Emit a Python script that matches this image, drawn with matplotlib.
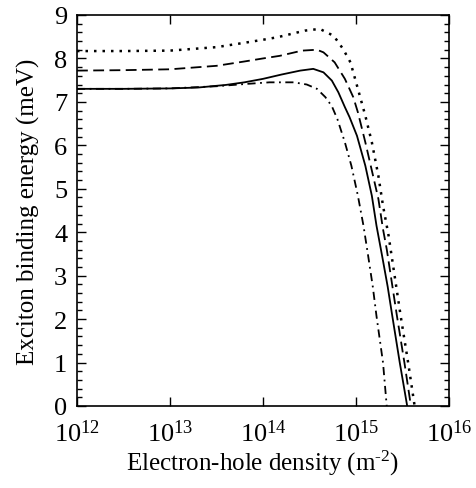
import numpy as np
import matplotlib
matplotlib.use('Agg')
import matplotlib.pyplot as plt
from matplotlib.ticker import MultipleLocator, LogLocator, FixedLocator, FixedFormatter

plt.rcParams['font.family'] = 'Liberation Serif'
plt.rcParams['mathtext.fontset'] = 'custom'
plt.rcParams['mathtext.rm'] = 'Liberation Serif'
plt.rcParams['mathtext.it'] = 'Liberation Serif:italic'

# log10 of density (m^-2) and binding energy (meV)
solid_logn = [12.0, 12.5, 13.0, 13.3, 13.6, 13.8, 14.0, 14.2, 14.4, 14.54, 14.65, 14.74, 14.81, 14.88, 14.93,
              15.01, 15.10, 15.17, 15.22, 15.28, 15.34, 15.39, 15.47, 15.55]
solid_E = [7.30, 7.30, 7.31, 7.33, 7.39, 7.45, 7.53, 7.63, 7.72, 7.76, 7.68, 7.49, 7.22, 6.88, 6.65,
           6.22, 5.53, 4.84, 4.15, 3.46, 2.75, 2.07, 1.00, 0.0]

dashed_logn = [12.0, 12.5, 13.0, 13.5, 13.8, 14.0, 14.18, 14.42, 14.58, 14.65, 14.77, 14.88, 14.97, 15.02,
               15.10, 15.17, 15.24, 15.29, 15.33, 15.44, 15.52, 15.59]
dashed_E = [7.72, 7.73, 7.75, 7.83, 7.93, 8.00, 8.06, 8.18, 8.20, 8.14, 7.91, 7.53, 7.11, 6.76,
            6.07, 5.42, 4.77, 4.07, 3.61, 2.07, 1.00, 0.0]

dotted_logn = [12.0, 12.5, 13.0, 13.5, 13.8, 14.0, 14.16, 14.45, 14.61, 14.76, 14.86, 14.94, 15.02, 15.10,
               15.17, 15.24, 15.29, 15.35, 15.48, 15.56, 15.63]
dotted_E = [8.17, 8.17, 8.18, 8.26, 8.36, 8.43, 8.49, 8.64, 8.68, 8.52, 8.22, 7.91, 7.30, 6.68,
            6.07, 5.30, 4.61, 3.92, 2.07, 1.00, 0.0]

dashdot_logn = [12.0, 12.5, 13.0, 13.5, 13.8, 14.07, 14.33, 14.47, 14.58, 14.67, 14.74, 14.80, 14.88, 14.95,
                15.02, 15.08, 15.13, 15.18, 15.22, 15.29, 15.33]
dashdot_E = [7.30, 7.30, 7.31, 7.36, 7.41, 7.45, 7.45, 7.40, 7.30, 7.11, 6.90, 6.60, 6.07, 5.53,
             4.84, 4.15, 3.46, 2.75, 2.07, 1.00, 0.0]

xtick_vals = [1e12, 1e13, 1e14, 1e15, 1e16]
xtick_labels = [r'$10^{12}$', r'$10^{13}$', r'$10^{14}$', r'$10^{15}$', r'$10^{16}$']

fig = plt.figure(figsize=(4.77, 4.89), dpi=100)
ax = fig.add_axes([0.1614, 0.1677, 0.78, 0.7996])

ax.plot(10 ** np.array(dotted_logn), dotted_E, color='black', lw=1.8, linestyle=(0, (1.0, 2.4)))
ax.plot(10 ** np.array(dashed_logn), dashed_E, color='black', lw=1.3, linestyle=(0, (6, 3)))
ax.plot(10 ** np.array(solid_logn), solid_E, color='black', lw=1.3, linestyle='-')
ax.plot(10 ** np.array(dashdot_logn), dashdot_E, color='black', lw=1.3, linestyle=(0, (4.5, 2.5, 1, 2.5)))

ax.set_xscale('log')
ax.set_xlim(1e12, 1e16)
ax.set_ylim(0, 9)

ax.xaxis.set_major_locator(FixedLocator(xtick_vals))
ax.xaxis.set_major_formatter(FixedFormatter(xtick_labels))
ax.xaxis.set_minor_locator(LogLocator(base=10, subs=np.arange(2, 10)))
ax.yaxis.set_major_locator(MultipleLocator(1))
ax.yaxis.set_minor_locator(MultipleLocator(0.2))

ax.tick_params(which='both', direction='in', top=True, right=True, width=1.0, labelsize=19)
ax.tick_params(axis='x', pad=10)
ax.tick_params(axis='y', pad=7)
ax.tick_params(which='major', length=6.5)
ax.tick_params(which='minor', length=3.3)
for s in ax.spines.values():
    s.set_linewidth(1.2)

ax.set_xlabel(r'Electron-hole density (m$^{\text{-2}}$)', fontsize=18, labelpad=1)
ax.set_ylabel('Exciton binding energy (meV)', fontsize=18, labelpad=10)

fig.savefig('out.png', dpi=100)
